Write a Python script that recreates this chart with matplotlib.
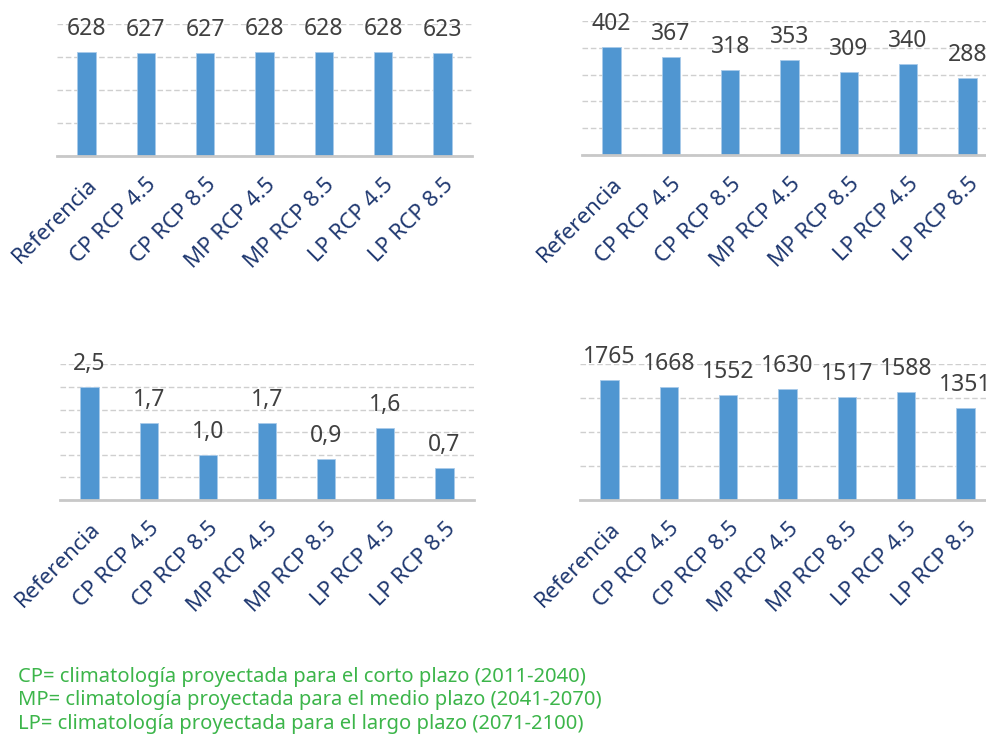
import matplotlib
matplotlib.use("Agg")
import matplotlib.pyplot as plt
from matplotlib.ticker import MultipleLocator

plt.rcParams["font.family"] = ["Noto Sans", "DejaVu Sans"]

# scenario categories shared by the four panels
categories = ["Referencia", "CP RCP 4.5", "CP RCP 8.5", "MP RCP 4.5",
              "MP RCP 8.5", "LP RCP 4.5", "LP RCP 8.5"]

values_top_left = [628, 627, 627, 628, 628, 628, 623]
values_top_right = [402, 367, 318, 353, 309, 340, 288]
values_bottom_left = [2.5, 1.7, 1.0, 1.7, 0.9, 1.6, 0.7]
values_bottom_right = [1765, 1668, 1552, 1630, 1517, 1588, 1351]

footnotes = [
    "CP= climatología proyectada para el corto plazo (2011-2040)",
    "MP= climatología proyectada para el medio plazo (2041-2070)",
    "LP= climatología proyectada para el largo plazo (2071-2100)",
]

BAR_COLOR = "#5096D1"
LABEL_COLOR = "#404040"
TICK_COLOR = "#1F3870"
GRID_COLOR = "#CFCFCF"
NOTE_COLOR = "#3CB54A"

W, H = 987, 738


def px_axes(fig, left, top, right, bottom):
    return fig.add_axes([left / W, 1 - bottom / H, (right - left) / W, (bottom - top) / H])


def draw_panel(ax, values, ymax, step, fmt):
    x = range(len(categories))
    ax.bar(x, values, width=0.31, color=BAR_COLOR, edgecolor="#A9CBEA",
           linewidth=0.6, zorder=3)
    ax.set_xlim(-0.5, len(categories) - 0.5)
    ax.set_ylim(0, ymax)
    ax.yaxis.set_major_locator(MultipleLocator(step))
    ax.grid(axis="y", color=GRID_COLOR, linestyle=(0, (4, 2)), linewidth=1.0, zorder=0)
    for s in ["top", "right", "left"]:
        ax.spines[s].set_visible(False)
    ax.spines["bottom"].set_color("#C8C8C8")
    ax.spines["bottom"].set_linewidth(2.0)
    ax.spines["bottom"].set_zorder(4)
    ax.tick_params(axis="y", left=False, labelleft=False)
    ax.tick_params(axis="x", length=0, pad=13)
    ax.set_xticks(list(x))
    ax.set_xticklabels(categories, rotation=45, ha="right", va="top",
                       rotation_mode="anchor", fontsize=16, color=TICK_COLOR)
    for i, v in enumerate(values):
        ax.annotate(fmt(v), (i, v), xytext=(0, 16.5), textcoords="offset points",
                    ha="center", va="center", fontsize=16.5, color=LABEL_COLOR,
                    annotation_clip=False)


fig = plt.figure(figsize=(W / 100, H / 100), dpi=100)

ax1 = px_axes(fig, 57, 24, 472, 156)
draw_panel(ax1, values_top_left, 800, 200, lambda v: f"{v:d}")

ax2 = px_axes(fig, 582, 20.7, 997, 155.3)
draw_panel(ax2, values_top_right, 500, 100, lambda v: f"{v:d}")

ax3 = px_axes(fig, 60, 364.3, 474, 500)
draw_panel(ax3, values_bottom_left, 3.0, 0.5, lambda v: f"{v:.1f}".replace(".", ","))

ax4 = px_axes(fig, 580, 364.3, 995, 500)
draw_panel(ax4, values_bottom_right, 2000, 500, lambda v: f"{v:d}")

for k, line in enumerate(footnotes):
    fig.text(18 / W, 1 - (677 + 23.5 * k) / H, line, fontsize=14.5, color=NOTE_COLOR,
             ha="left", va="center")

fig.savefig("out.png", dpi=100)
